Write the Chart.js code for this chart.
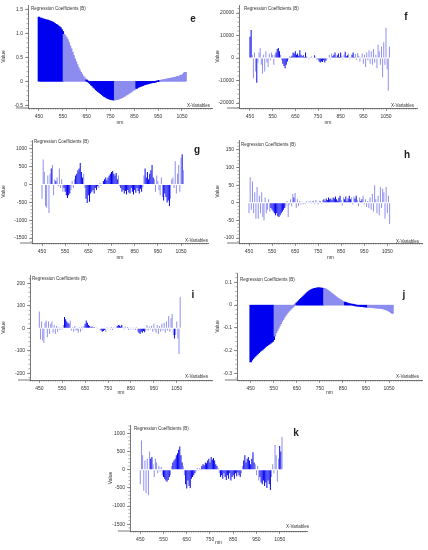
<!DOCTYPE html>
<html lang="en">
<head>
<meta charset="UTF-8">
<meta name="viewport" content="width=device-width, initial-scale=1.0">
<title>Regression Coefficients</title>
<script src="https://cdn.jsdelivr.net/npm/chart.js"></script>
<style>
  html, body { margin: 0; padding: 0; background: #fff; }
  body { position: relative; width: 428px; height: 550px; overflow: hidden; font-family: "Liberation Sans", Arial, sans-serif; color: #333; }
  .panel { position: absolute; }
  .note { position: absolute; font-size: 4.5px; line-height: 1; white-space: nowrap; color: #333; }
  .reg { transform: translateY(-50%); }
  .xvar { transform: translate(-100%, -50%); }
  .letter { position: absolute; font-size: 10px; font-weight: bold; line-height: 1; color: #222; transform: translate(-50%, -50%); }
</style>
</head>
<body>
<script>
// wavelength of each x-variable (nm)
const wavelengths = [
  450, 455, 460, 465, 470, 475, 480, 485, 490, 495,
  500, 505, 510, 515, 520, 525, 530, 535, 540, 545,
  550, 555, 560, 565, 570, 575, 580, 585, 590, 595,
  600, 605, 610, 615, 620, 625, 630, 635, 640, 645,
  650, 655, 660, 665, 670, 675, 680, 685, 690, 695,
  700, 705, 710, 715, 720, 725, 730, 735, 740, 745,
  750, 755, 760, 765, 770, 775, 780, 785, 790, 795,
  800, 805, 810, 815, 820, 825, 830, 835, 840, 845,
  850, 855, 860, 865, 870, 875, 880, 885, 890, 895,
  900, 905, 910, 915, 920, 925, 930, 935, 940, 945,
  950, 955, 960, 965, 970, 975, 980, 985, 990, 995,
  1000, 1005, 1010, 1015, 1020, 1025, 1030, 1035, 1040, 1045,
  1050, 1055, 1060, 1065
];
const xTicks = [450, 550, 650, 750, 850, 950, 1050];

const coefE = [
  1.33, 1.30, 1.31, 1.29, 1.29, 1.28, 1.27, 1.27, 1.26, 1.25,
  1.24, 1.23, 1.22, 1.20, 1.18, 1.17, 1.15, 1.13, 1.11, 1.07,
  1.03, 0.97, 0.94, 0.90, 0.86, 0.80, 0.73, 0.67, 0.60, 0.53,
  0.46, 0.40, 0.34, 0.28, 0.23, 0.18, 0.14, 0.10, 0.07, 0.04,
  0.02, 0.00, -0.02, -0.04, -0.07, -0.09, -0.12, -0.14, -0.17, -0.19,
  -0.21, -0.23, -0.25, -0.27, -0.29, -0.31, -0.32, -0.34, -0.35, -0.36,
  -0.37, -0.37, -0.38, -0.38, -0.38, -0.37, -0.37, -0.36, -0.35, -0.34,
  -0.33, -0.31, -0.30, -0.28, -0.27, -0.25, -0.23, -0.22, -0.20, -0.18,
  -0.17, -0.15, -0.14, -0.12, -0.11, -0.10, -0.09, -0.08, -0.07, -0.06,
  -0.05, -0.05, -0.04, -0.03, -0.03, -0.02, -0.02, -0.01, -0.01, 0.00,
  0.00, 0.01, 0.01, 0.02, 0.02, 0.03, 0.03, 0.04, 0.04, 0.05,
  0.05, 0.06, 0.06, 0.07, 0.07, 0.08, 0.09, 0.09, 0.10, 0.12,
  0.11, 0.14, 0.17, 0.18
];
const yTicksE = [-0.5, 0, 0.5, 1.0, 1.5];

const coefF = [
  9500, 12500, 1500, -9000, 2500, -6000, -11000, -2000, 2500, 4500,
  -3000, -7000, 1500, -6000, 3000, -2000, -4000, 2000, -1000, 2500,
  1500, -3000, 1500, 2500, 4000, 4500, 3000, 1500, -1000, -2500,
  -3500, -4500, -3000, -1500, -500, 800, 500, 1000, 2500, 2000,
  3000, 1500, 2000, 1000, 3500, 1500, 800, 1200, 500, 2500,
  600, 300, -500, 400, 800, -300, 300, 1200, 500, -800,
  -500, -1500, -2000, -1500, -1800, -1000, -2000, -1200, -500, 300,
  1500, -500, 2000, 800, 1500, 2500, 500, 1200, 2000, 400,
  2500, 1000, -500, 1500, 2800, 800, 1200, 2000, -600, 500,
  1500, 2500, 500, 1800, -800, 2200, 1000, -1500, 500, 2000,
  -2500, 1500, -4000, 2500, -1000, 3500, -2500, 3000, -3000, 4000,
  -2000, 1500, -4500, 6000, 3000, -3000, 5000, -8500, 7000, -3000,
  13500, -5000, -14500, 5000
];
const yTicksF = [-20000, -10000, 0, 10000, 20000];

const coefG = [
  -400, 700, 350, -600, -650, 250, -800, 300, 450, 550,
  -300, 150, 100, 200, -50, 450, -100, 150, -200, -100,
  -200, -300, -380, -300, -250, -150, 100, -100, 150, 250,
  300, 400, 450, 600, 350, 200, 300, -100, -400, -520,
  -300, -480, -250, -200, -150, -250, -100, -150, -50, -100,
  50, -30, 20, 100, 150, 200, 120, 200, 250, 300,
  350, 380, 300, 250, 320, 150, 250, -50, -100, -200,
  -150, -250, -180, -280, -150, -220, -250, -100, -200, -280,
  -150, -230, -100, -180, -250, -120, -200, -80, 250, 450,
  200, 350, 150, 300, 400, 550, 200, 150, -200, 250,
  100, -150, -300, 200, -350, -450, -250, -350, -500, -450,
  -600, -400, 150, 200, -100, 650, -250, 300, 550, -200,
  750, 850, 400, 0
];
const yTicksG = [-1500, -1000, -500, 0, 500, 1000];

const coefH = [
  -30, 72, -20, 60, -30, 30, -45, 45, -45, 20,
  -30, 30, -40, -50, 15, -30, -20, 10, -25, -15,
  -20, -25, -30, -35, -30, -38, -40, -35, -30, -25,
  -20, -15, -10, 5, -40, -5, 10, -10, 25, 15,
  28, -15, 10, -10, 5, -5, 3, -4, 2, -3,
  4, -2, 3, 5, -3, 4, 6, -4, 8, 3,
  -5, 6, 5, -3, 8, 10, 5, 12, 8, 15,
  10, 12, 7, 15, 12, 18, 10, 6, 14, 20,
  8, -8, 15, 10, 18, 5, 12, 20, 10, 15,
  -5, 18, 12, 20, 8, -10, 15, 5, 10, 20,
  -5, 10, -12, 5, -15, 15, -20, 25, -25, 50,
  10, -30, 20, -35, 45, -15, 40, 30, -45, 45,
  -30, 20, -60, 0
];
const yTicksH = [-100, -50, 0, 50, 100, 150];

const coefI = [
  75, -50, 30, -55, -65, 25, 35, -40, 30, -25,
  20, 30, -20, 15, -25, 10, -15, 5, -8, 5,
  -5, 15, 50, 40, 30, 25, 20, 35, -10, 5,
  -15, 10, -10, -5, -20, 5, -15, 8, -5, 10,
  20, 35, 25, 15, 10, 5, 8, 3, 5, 2,
  4, -3, 2, -5, -10, -15, -12, -8, -15, 5,
  -3, 4, -5, 6, -8, 5, -3, 4, 10, 15,
  12, 8, 15, 5, -5, 8, -3, 6, -8, 4,
  -5, 3, -5, 4, -8, 5, -15, -20, -25, -15,
  -20, -12, -18, -10, 15, -10, 8, -5, 10, -15,
  20, -10, -20, 15, -25, 10, -15, 20, -10, 25,
  -20, 30, -10, 55, -15, 45, 65, -30, -45, -30,
  30, -45, -115, 140
];
const yTicksI = [-200, -100, 0, 100, 200];

const coefJ = [
  -0.248, -0.240, -0.233, -0.227, -0.222, -0.217, -0.212, -0.207, -0.202, -0.198,
  -0.195, -0.190, -0.185, -0.180, -0.177, -0.173, -0.170, -0.166, -0.162, -0.158,
  -0.150, -0.135, -0.120, -0.110, -0.100, -0.090, -0.080, -0.070, -0.062, -0.053,
  -0.045, -0.038, -0.031, -0.025, -0.020, -0.015, -0.010, -0.005, 0.000, 0.004,
  0.008, 0.013, 0.018, 0.023, 0.028, 0.033, 0.038, 0.043, 0.048, 0.053,
  0.057, 0.061, 0.064, 0.067, 0.069, 0.071, 0.072, 0.073, 0.074, 0.074,
  0.074, 0.073, 0.073, 0.072, 0.071, 0.069, 0.066, 0.063, 0.059, 0.055,
  0.051, 0.047, 0.043, 0.039, 0.035, 0.031, 0.027, 0.024, 0.021, 0.018,
  0.015, 0.013, 0.011, 0.009, 0.007, 0.005, 0.004, 0.003, 0.002, 0.001,
  0.000, -0.001, -0.002, -0.003, -0.003, -0.004, -0.005, -0.005, -0.006, -0.006,
  -0.007, -0.007, -0.008, -0.008, -0.009, -0.009, -0.010, -0.010, -0.011, -0.011,
  -0.012, -0.012, -0.012, -0.013, -0.014, -0.015, -0.016, -0.018, -0.020, -0.022,
  -0.025, -0.028, -0.032, -0.035
];
const yTicksJ = [-0.3, -0.2, -0.1, 0, 0.1];

const coefK = [
  -400, 800, 400, -580, 250, -650, 300, -700, 500, 300,
  350, 150, -200, 300, 200, -100, 100, -50, 80, -150,
  -200, -250, -300, -330, -280, -200, -150, 100, 200, 250,
  300, 400, 450, 550, 640, 400, 200, 100, -150, -400,
  -520, -300, -450, -500, -250, -200, -150, -100, -50, 50,
  -30, 40, 20, 100, 150, 120, 200, 180, 250, 300,
  200, 350, 280, 320, 250, 150, 100, 50, -100, -200,
  -150, -250, -100, -200, -280, -150, -250, -100, -300, -200,
  -150, -250, -100, -180, -80, -150, -200, -100, 100, 250,
  400, 200, 300, 350, 250, 150, 300, 480, 200, 150,
  -150, 100, -300, -200, -350, -400, -300, -450, -350, -500,
  -300, -400, -560, -200, 150, -100, 680, 400, -330, 300,
  650, 500, 900, 0
];
const yTicksK = [-1500, -1000, -500, 0, 500, 1000];

const DARK = '#0000f0';
const LIGHT = '#8c8cf0';
const AXIS = '#555';
const blockBreaks = [552, 650, 767, 857, 960];

// smooth curves: colour alternates in wavelength blocks
function blockColor(ctx) {
  const w = wavelengths[ctx.dataIndex];
  const n = blockBreaks.filter(b => w >= b).length;
  return n % 2 ? LIGHT : DARK;
}

// noisy curves: runs of same-sign bars look solid, lone spikes look pale
function signColor(values) {
  return ctx => {
    const i = ctx.dataIndex;
    const s = Math.sign(values[i]);
    const prev = i > 0 ? Math.sign(values[i - 1]) : s;
    const next = i < values.length - 1 ? Math.sign(values[i + 1]) : s;
    return (prev === s && next === s) ? DARK : LIGHT;
  };
}

const minorTicks = {
  id: 'minorTicks',
  afterDraw(chart, args, opts) {
    const ctx = chart.ctx;
    const xs = chart.scales.x, ys = chart.scales.y;
    ctx.save();
    ctx.strokeStyle = AXIS;
    ctx.lineWidth = 0.5;
    ctx.beginPath();
    for (let k = Math.ceil(xs.min / opts.x); k * opts.x <= xs.max; k++) {
      const px = xs.getPixelForValue(k * opts.x);
      ctx.moveTo(px, xs.top);
      ctx.lineTo(px, xs.top + 1.6);
    }
    for (let k = Math.ceil(ys.min / opts.y); k * opts.y <= ys.max; k++) {
      const py = ys.getPixelForValue(k * opts.y);
      ctx.moveTo(ys.right, py);
      ctx.lineTo(ys.right - 1.6, py);
    }
    ctx.stroke();
    // x axis line runs a little past the y axis
    ctx.lineWidth = 0.8;
    ctx.beginPath();
    ctx.moveTo(chart.chartArea.left - 12, xs.top);
    ctx.lineTo(chart.chartArea.left, xs.top);
    ctx.stroke();
    ctx.restore();
  }
};

const panels = [
  { letter: 'e', values: coefE, yTicks: yTicksE, dec: 1, minor: 0.1, smooth: true,
    box: [0, 0, 214, 130], area: [28, 5, 212, 108], x: [404, 1176], y: [-0.556, 1.589],
    reg: [31, 9], xvar: [210, 106], mark: [193, 19] },
  { letter: 'f', values: coefF, yTicks: yTicksF, dec: 0, minor: 2000, smooth: false,
    box: [214, 0, 214, 130], area: [25, 5, 203, 108], x: [401.5, 1186.7], y: [-22222, 23556],
    reg: [244, 9], xvar: [414, 106], mark: [406, 17] },
  { letter: 'g', values: coefG, yTicks: yTicksG, dec: 0, minor: 100, smooth: false,
    box: [0, 135, 214, 130], area: [32, 3, 208, 108], x: [406.8, 1166.5], y: [-1637, 1247],
    reg: [34, 142], xvar: [208, 241], mark: [197, 150] },
  { letter: 'h', values: coefH, yTicks: yTicksH, dec: 0, minor: 10, smooth: false,
    box: [214, 135, 214, 130], area: [25, 3, 208, 108], x: [406.6, 1200.5], y: [-113.9, 177.8],
    reg: [241, 145], xvar: [419, 242], mark: [407, 155] },
  { letter: 'i', values: coefI, yTicks: yTicksI, dec: 0, minor: 20, smooth: false,
    box: [0, 265, 214, 135], area: [30, 10, 212, 115], x: [409.4, 1204], y: [-230, 237],
    reg: [32, 279], xvar: [208, 377], mark: [193, 295] },
  { letter: 'j', values: coefJ, yTicks: yTicksJ, dec: 1, minor: 0.02, smooth: true,
    box: [214, 265, 214, 135], area: [23, 8, 208, 115], x: [390.6, 1193], y: [-0.329, 0.141],
    reg: [240, 280], xvar: [419, 377], mark: [404, 295] },
  { letter: 'k', values: coefK, yTicks: yTicksK, dec: 0, minor: 100, smooth: false,
    box: [107, 400, 214, 150], area: [23, 25, 200, 131], x: [405.7, 1167.5], y: [-1685, 1229],
    reg: [134, 429], xvar: [309, 527], mark: [296, 433] }
];

function addText(cls, text, pos) {
  const el = document.createElement('div');
  el.className = cls;
  el.textContent = text;
  el.style.left = pos[0] + 'px';
  el.style.top = pos[1] + 'px';
  document.body.appendChild(el);
}

Chart.defaults.font.family = '"Liberation Sans", Arial, sans-serif';

panels.forEach(p => {
  const [bx, by, bw, bh] = p.box;
  const wrap = document.createElement('div');
  wrap.className = 'panel';
  wrap.style.left = bx + 'px';
  wrap.style.top = by + 'px';
  wrap.style.width = bw + 'px';
  wrap.style.height = bh + 'px';
  const canvas = document.createElement('canvas');
  wrap.appendChild(canvas);
  document.body.appendChild(wrap);

  new Chart(canvas, {
    type: 'bar',
    data: {
      datasets: [{
        data: wavelengths.map((w, i) => ({ x: w, y: p.values[i] })),
        backgroundColor: p.smooth ? blockColor : signColor(p.values),
        borderWidth: 0,
        inflateAmount: p.smooth ? 0.7 : 'auto',
        barPercentage: 1,
        categoryPercentage: p.smooth ? 1 : 0.85
      }]
    },
    options: {
      responsive: true,
      maintainAspectRatio: false,
      animation: false,
      layout: { padding: { top: p.area[1], right: bw - p.area[2], left: 0, bottom: 0 } },
      plugins: {
        legend: { display: false },
        tooltip: { enabled: false },
        minorTicks: { x: 10, y: p.minor }
      },
      scales: {
        x: {
          type: 'linear',
          min: p.x[0],
          max: p.x[1],
          offset: false,
          grid: { display: true, drawOnChartArea: false, offset: false, tickLength: 3, tickColor: AXIS, tickWidth: 0.6 },
          border: { display: true, color: AXIS, width: 0.8 },
          ticks: { font: { size: 5 }, color: '#333', padding: 3, maxRotation: 0, autoSkip: false,
                   callback: v => String(v) },
          title: { display: true, text: 'nm', font: { size: 5 }, color: '#333', padding: { top: 0, bottom: 4 } },
          afterBuildTicks: s => { s.ticks = xTicks.map(v => ({ value: v })); },
          afterFit: s => { s.height = bh - p.area[3]; }
        },
        y: {
          min: p.y[0],
          max: p.y[1],
          grid: { display: true, drawOnChartArea: false, tickLength: 3, tickColor: AXIS, tickWidth: 0.6 },
          border: { display: true, color: AXIS, width: 0.8 },
          ticks: { font: { size: 5 }, color: '#333', padding: 2, autoSkip: false,
                   callback: v => v === 0 ? '0' : v.toFixed(p.dec) },
          title: { display: true, text: 'Value', font: { size: 5 }, color: '#333', padding: { top: 1, bottom: 0 } },
          afterBuildTicks: s => { s.ticks = p.yTicks.map(v => ({ value: v })); },
          afterFit: s => { s.width = p.area[0]; }
        }
      }
    },
    plugins: [minorTicks]
  });

  addText('note reg', 'Regression Coefficients (B)', p.reg);
  addText('note xvar', 'X-Variables', p.xvar);
  addText('letter', p.letter, p.mark);
});
</script>
</body>
</html>
